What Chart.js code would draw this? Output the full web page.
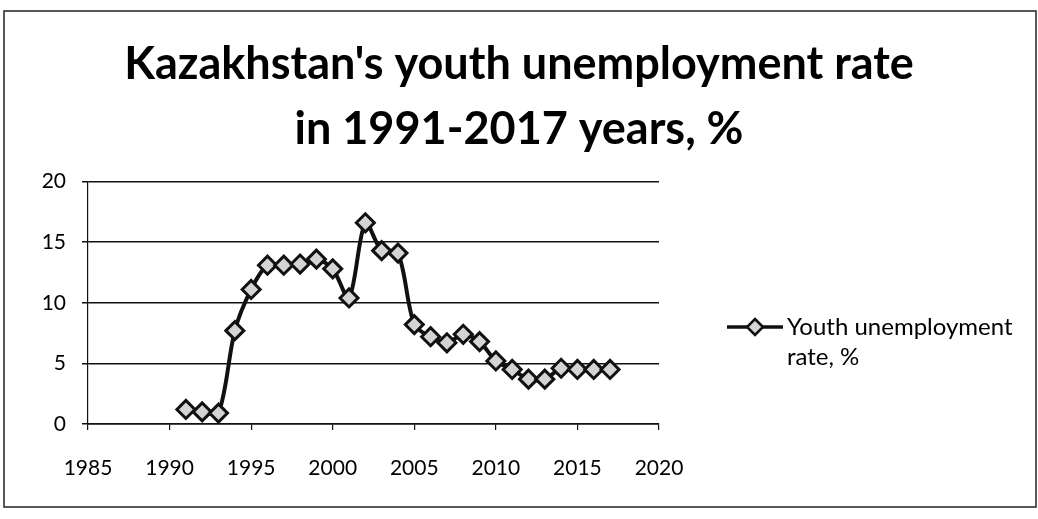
<!DOCTYPE html>
<html>
<head>
<meta charset="utf-8">
<script src="https://cdn.jsdelivr.net/npm/chart.js@4.4.1/dist/chart.umd.min.js"></script>
<style>
  html, body { margin: 0; padding: 0; background: #fff; }
  #wrap { width: 1038px; height: 519px; }
</style>
</head>
<body>
<div id="wrap"><canvas id="chart" width="1038" height="519"></canvas></div>
<script>
// values
const years = [1991, 1992, 1993, 1994, 1995, 1996, 1997, 1998, 1999, 2000,
  2001, 2002, 2003, 2004, 2005, 2006, 2007, 2008, 2009, 2010,
  2011, 2012, 2013, 2014, 2015, 2016, 2017];
const rates = [1.2, 1.0, 0.9, 7.7, 11.1, 13.1, 13.1, 13.2, 13.6, 12.8,
  10.4, 16.6, 14.3, 14.1, 8.2, 7.2, 6.7, 7.4, 6.8, 5.2,
  4.5, 3.7, 3.7, 4.6, 4.5, 4.5, 4.5];
const xTicks = [1985, 1990, 1995, 2000, 2005, 2010, 2015, 2020];
const yTicks = [0, 5, 10, 15, 20];
const seriesName = ['Youth unemployment', 'rate, %'];
const titleLines = ["Kazakhstan's youth unemployment rate", 'in 1991-2017 years, %'];

const FONT = 'Lato, "Open Sans", sans-serif';

// white page + thin outer frame like the excel chart border
const frame = {
  id: 'frame',
  beforeDraw(chart) {
    const c = chart.ctx;
    c.save();
    c.fillStyle = '#fff';
    c.fillRect(0, 0, chart.width, chart.height);
    c.strokeStyle = '#222';
    c.lineWidth = 1.5;
    c.strokeRect(4, 11, chart.width - 6, chart.height - 23);
    c.restore();
  }
};

// legend on the right, two lines of text
const sideLegend = {
  id: 'sideLegend',
  afterDraw(chart) {
    const c = chart.ctx;
    const x0 = chart.chartArea.right + 68, y0 = 327;
    c.save();
    c.strokeStyle = '#111';
    c.lineWidth = 3.5;
    c.beginPath();
    c.moveTo(x0, y0);
    c.lineTo(x0 + 56, y0);
    c.stroke();
    c.fillStyle = '#d4d4d4';
    c.lineWidth = 2.5;
    c.beginPath();
    c.moveTo(x0 + 28, y0 - 8);
    c.lineTo(x0 + 36, y0);
    c.lineTo(x0 + 28, y0 + 8);
    c.lineTo(x0 + 20, y0);
    c.closePath();
    c.fill();
    c.stroke();
    c.fillStyle = '#000';
    c.font = '24px ' + FONT;
    c.textBaseline = 'middle';
    c.fillText(seriesName[0], x0 + 60, y0);
    c.fillText(seriesName[1], x0 + 60, y0 + 30);
    c.restore();
  }
};

new Chart(document.getElementById('chart'), {
  type: 'line',
  data: {
    datasets: [{
      label: seriesName.join(' '),
      data: years.map((y, i) => ({ x: y, y: rates[i] })),
      borderColor: '#111',
      borderWidth: 4,
      pointStyle: 'rectRot',
      pointRadius: 9,
      pointBorderWidth: 3,
      pointBorderColor: '#111',
      pointBackgroundColor: '#d4d4d4',
      tension: 0.3,
    }],
  },
  options: {
    responsive: false,
    animation: false,
    layout: { padding: 0 },
    plugins: {
      legend: { display: false },
      tooltip: { enabled: false },
      title: {
        display: true,
        text: titleLines,
        color: '#000',
        font: { family: FONT, size: 45, weight: 'bold', lineHeight: 1.44 },
        padding: { top: 32, bottom: 20 },
      },
    },
    scales: {
      x: {
        type: 'linear',
        min: 1985,
        max: 2020,
        afterBuildTicks: s => { s.ticks = xTicks.map(v => ({ value: v })); },
        afterFit: s => { s.height = 95; },
        ticks: {
          color: '#000',
          font: { family: FONT, size: 21 },
          padding: 26,
          maxRotation: 0,
          callback: v => String(v),
        },
        grid: { drawOnChartArea: false, color: '#111', tickLength: 6, lineWidth: 1.2 },
        border: { color: '#111', width: 1.5 },
      },
      y: {
        min: 0,
        max: 20,
        afterBuildTicks: s => { s.ticks = yTicks.map(v => ({ value: v })); },
        afterFit: s => { s.width = 88; },
        ticks: {
          color: '#000',
          font: { family: FONT, size: 21 },
          padding: 16,
        },
        grid: { color: '#111', lineWidth: 1.5, tickLength: 6 },
        border: { color: '#111', width: 1.2 },
      },
      // empty box on the right that keeps room for the legend
      side: {
        position: 'right',
        afterFit: s => { s.width = 379; },
        ticks: { display: false },
        grid: { display: false },
        border: { display: false },
      },
    },
  },
  plugins: [frame, sideLegend],
});
</script>
</body>
</html>
